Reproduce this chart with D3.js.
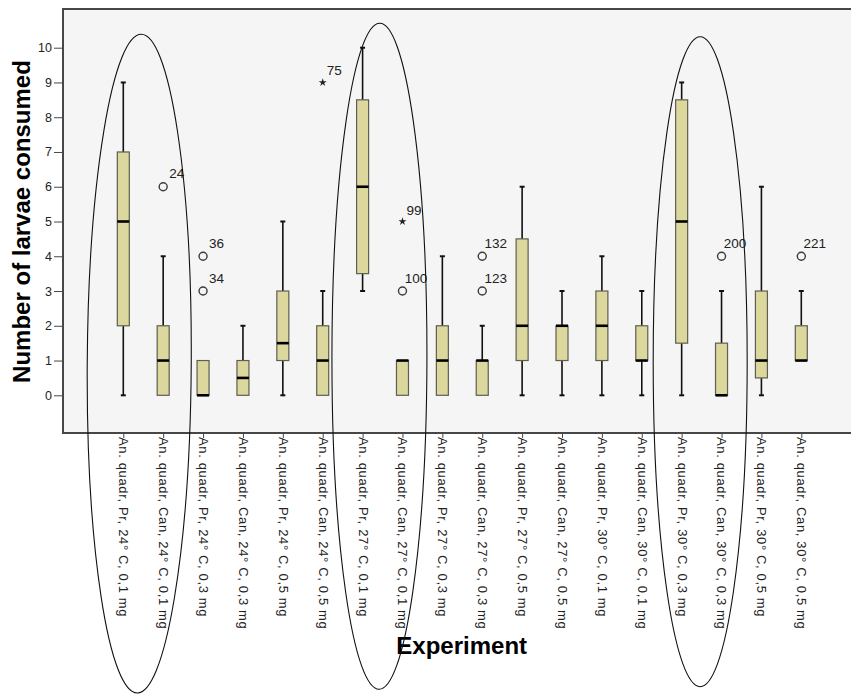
<!DOCTYPE html>
<html>
<head>
<meta charset="utf-8">
<script src="https://cdn.jsdelivr.net/npm/d3@7/dist/d3.min.js"></script>
<style>
  body { margin: 0; background: #fff; }
  svg { display: block; font-family: "Liberation Sans", Arial, sans-serif; }
</style>
</head>
<body>
<svg id="chart" width="851" height="695"></svg>
<script>
// Experimental groups (species, formulation, temperature, dose)
const categories = [
  "An. quadr, Pr, 24° C, 0,1 mg", "An. quadr, Can, 24° C, 0,1 mg",
  "An. quadr, Pr, 24° C, 0,3 mg", "An. quadr, Can, 24° C, 0,3 mg",
  "An. quadr, Pr, 24° C, 0,5 mg", "An. quadr, Can, 24° C, 0,5 mg",
  "An. quadr, Pr, 27° C, 0,1 mg", "An. quadr, Can, 27° C, 0,1 mg",
  "An. quadr, Pr, 27° C, 0,3 mg", "An. quadr, Can, 27° C, 0,3 mg",
  "An. quadr, Pr, 27° C, 0,5 mg", "An. quadr, Can, 27° C, 0,5 mg",
  "An. quadr, Pr, 30° C, 0,1 mg", "An. quadr, Can, 30° C, 0,1 mg",
  "An. quadr, Pr, 30° C, 0,3 mg", "An. quadr, Can, 30° C, 0,3 mg",
  "An. quadr, Pr, 30° C, 0,5 mg", "An. quadr, Can, 30° C, 0,5 mg"
];

// Five-number summaries per group
const whiskerLow  = [0, 0, 0, 0,   0,   0, 3,   0, 0, 0, 0,   0, 0, 0, 0,   0,   0,   1];
const q1          = [2, 0, 0, 0,   1,   0, 3.5, 0, 0, 0, 1,   1, 1, 1, 1.5, 0,   0.5, 1];
const median      = [5, 1, 0, 0.5, 1.5, 1, 6,   1, 1, 1, 2,   2, 2, 1, 5,   0,   1,   1];
const q3          = [7, 2, 1, 1,   3,   2, 8.5, 1, 2, 1, 4.5, 2, 3, 2, 8.5, 1.5, 3,   2];
const whiskerHigh = [9, 4, 1, 2,   5,   3, 10,  1, 4, 2, 6,   3, 4, 3, 9,   3,   6,   3];

// Outliers (o) and extremes (*) with case numbers
const outlierGroup = [1, 2, 2, 5, 7, 7, 9, 9, 15, 17];
const outlierValue = [6, 4, 3, 9, 5, 3, 4, 3, 4, 4];
const outlierCase  = ["24", "36", "34", "75", "99", "100", "132", "123", "200", "221"];
const outlierKind  = ["o", "o", "o", "*", "*", "o", "o", "o", "o", "o"];

const yTicks = [0, 1, 2, 3, 4, 5, 6, 7, 8, 9, 10];

// Highlighted group pairs (first index of each pair)
const highlightStart = [0, 6, 14];

const svg = d3.select("#chart");
const W = 851, H = 695;
const frame = { left: 63, top: 9, right: 852, bottom: 433 };

const x = d3.scalePoint().domain(categories).range([123.3, 801.3]);
const y = d3.scaleLinear().domain([0, 10]).range([395.3, 47.7]);

// plot background
svg.append("rect")
  .attr("x", frame.left).attr("y", frame.top)
  .attr("width", frame.right - frame.left).attr("height", frame.bottom - frame.top)
  .attr("fill", "#f5f5f5");

// frame lines (left, top, bottom)
const frameG = svg.append("g").attr("stroke", "#474747").attr("stroke-width", 2).attr("fill", "none");
frameG.append("line").attr("x1", frame.left).attr("x2", frame.right).attr("y1", frame.top).attr("y2", frame.top);
frameG.append("line").attr("x1", frame.left).attr("x2", frame.right).attr("y1", frame.bottom).attr("y2", frame.bottom);
frameG.append("line").attr("x1", frame.left).attr("x2", frame.left).attr("y1", frame.top - 1).attr("y2", frame.bottom + 1);

// y axis
const yAxis = d3.axisLeft(y).tickValues(yTicks).tickSize(9).tickPadding(2).tickFormat(d3.format("d"));
const yg = svg.append("g").attr("transform", `translate(${frame.left},0)`).call(yAxis);
yg.select(".domain").remove();
yg.selectAll(".tick line").attr("stroke", "#474747");
yg.selectAll(".tick text")
  .attr("font-family", "'Liberation Sans', Arial, sans-serif")
  .attr("font-size", 12.5).attr("fill", "#222");

// x axis
const xAxis = d3.axisBottom(x).tickSize(5).tickFormat("");
const xg = svg.append("g").attr("transform", `translate(0,${frame.bottom})`).call(xAxis);
xg.select(".domain").remove();
xg.selectAll(".tick line").attr("stroke", "#474747");
xg.selectAll(".tick").append("text")
  .attr("transform", "translate(0,4) rotate(90)")
  .attr("text-anchor", "start")
  .attr("dy", "0.35em")
  .attr("fill", "#222")
  .attr("font-size", 13)
  .attr("letter-spacing", "0.65px")
  .text(d => d);

// box plots
const boxW = 12, capW = 5;
const boxes = svg.append("g");
categories.forEach((c, i) => {
  const cx = x(c);
  const g = boxes.append("g");
  if (whiskerHigh[i] > q3[i]) {
    g.append("line").attr("x1", cx).attr("x2", cx)
      .attr("y1", y(q3[i])).attr("y2", y(whiskerHigh[i]))
      .attr("stroke", "#111").attr("stroke-width", 1.6);
    g.append("line").attr("x1", cx - capW / 2).attr("x2", cx + capW / 2)
      .attr("y1", y(whiskerHigh[i])).attr("y2", y(whiskerHigh[i]))
      .attr("stroke", "#111").attr("stroke-width", 2);
  }
  if (whiskerLow[i] < q1[i]) {
    g.append("line").attr("x1", cx).attr("x2", cx)
      .attr("y1", y(q1[i])).attr("y2", y(whiskerLow[i]))
      .attr("stroke", "#111").attr("stroke-width", 1.6);
    g.append("line").attr("x1", cx - capW / 2).attr("x2", cx + capW / 2)
      .attr("y1", y(whiskerLow[i])).attr("y2", y(whiskerLow[i]))
      .attr("stroke", "#111").attr("stroke-width", 2);
  }
  g.append("rect")
    .attr("x", cx - boxW / 2).attr("y", y(q3[i]))
    .attr("width", boxW).attr("height", y(q1[i]) - y(q3[i]))
    .attr("fill", "#dbd79d").attr("stroke", "#5e5e52").attr("stroke-width", 1.2);
  g.append("line")
    .attr("x1", cx - boxW / 2).attr("x2", cx + boxW / 2)
    .attr("y1", y(median[i])).attr("y2", y(median[i]))
    .attr("stroke", "#000").attr("stroke-width", 2.6);
});

// outliers and extremes
const pts = svg.append("g");
outlierValue.forEach((v, k) => {
  const px = x(categories[outlierGroup[k]]);
  const py = y(v);
  if (outlierKind[k] === "o") {
    pts.append("circle").attr("cx", px).attr("cy", py).attr("r", 4)
      .attr("fill", "none").attr("stroke", "#3a3a3a").attr("stroke-width", 1.4);
    pts.append("text").attr("x", px + 13.5).attr("y", py - 8.5)
      .attr("text-anchor", "middle").attr("font-size", 13.5).attr("fill", "#222")
      .text(outlierCase[k]);
  } else {
    pts.append("path")
      .attr("transform", `translate(${px},${py})`)
      .attr("d", d3.symbol(d3.symbolStar, 20)())
      .attr("fill", "#222");
    pts.append("text").attr("x", px + 11.5).attr("y", py - 7)
      .attr("text-anchor", "middle").attr("font-size", 13.5).attr("fill", "#222")
      .text(outlierCase[k]);
  }
});

// axis titles
svg.append("text")
  .attr("transform", `translate(29.5,${y(5)}) rotate(-90)`)
  .attr("text-anchor", "middle")
  .attr("font-size", 24).attr("font-weight", "bold").attr("fill", "#000")
  .text("Number of larvae consumed");
svg.append("text")
  .attr("x", 461.7).attr("y", 654)
  .attr("text-anchor", "middle")
  .attr("font-size", 24).attr("font-weight", "bold").attr("fill", "#000")
  .text("Experiment");

// ellipses drawn around highlighted pairs
const ellipseShape = [
  { dx: -4,   top: 34.3, bottom: 693,   rx: 52,   tilt: 0.35 },
  { dx: -3.1, top: 23.3, bottom: 689.3, rx: 47.5, tilt: 0.06 },
  { dx: -1.4, top: 36.7, bottom: 686.7, rx: 47,   tilt: 0 }
];
const ell = svg.append("g").attr("fill", "none").attr("stroke", "#111").attr("stroke-width", 1.1);
highlightStart.forEach((s, k) => {
  const e = ellipseShape[k];
  const cx = (x(categories[s]) + x(categories[s + 1])) / 2 + e.dx;
  const cy = (e.top + e.bottom) / 2;
  ell.append("ellipse")
    .attr("cx", cx).attr("cy", cy)
    .attr("rx", e.rx).attr("ry", (e.bottom - e.top) / 2)
    .attr("transform", `rotate(${e.tilt},${cx},${cy})`);
});
</script>
</body>
</html>
